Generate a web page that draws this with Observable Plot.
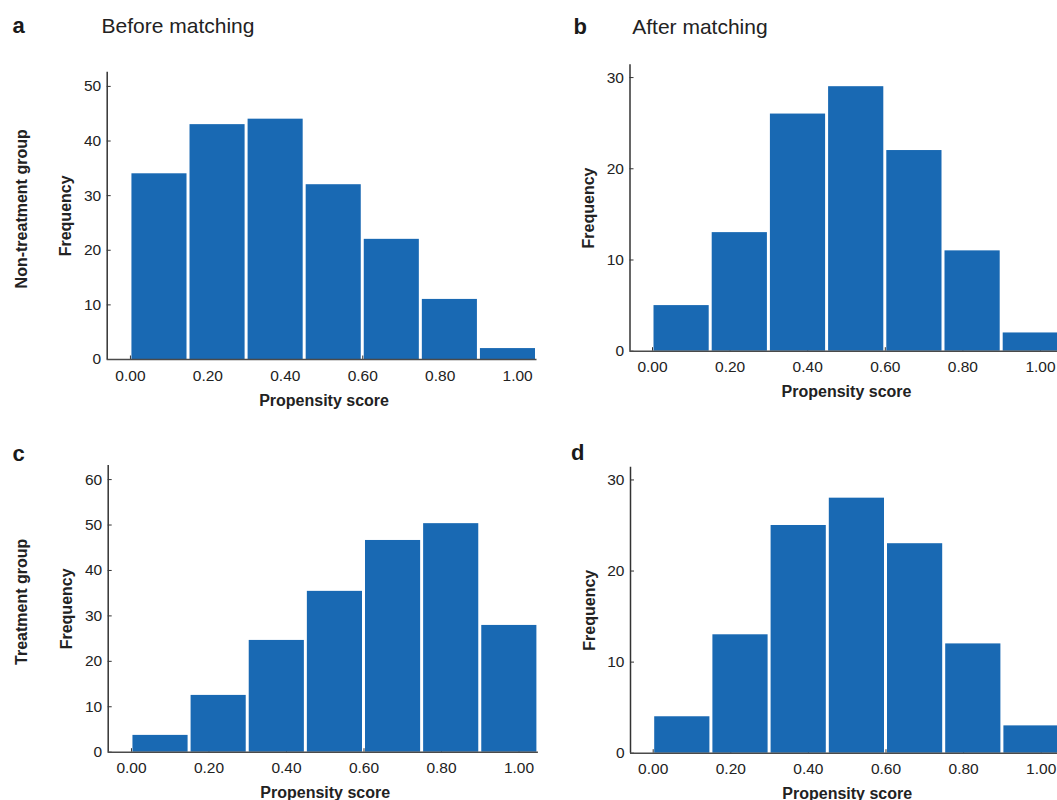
<!DOCTYPE html>
<html><head><meta charset="utf-8">
<script src="https://cdn.jsdelivr.net/npm/d3@7"></script>
<script src="https://cdn.jsdelivr.net/npm/@observablehq/plot@0.6"></script>
<style>
html,body{margin:0;padding:0;background:#fff;overflow:hidden;width:1057px;height:800px;}
#fig{position:relative;width:1057px;height:800px;overflow:hidden;background:#fff;}
#fig svg{position:absolute;max-width:none;}
</style></head><body><div id="fig"></div>
<script>
// ---- data ----
const binEdges = [0, 0.15, 0.30, 0.45, 0.60, 0.75, 0.90, 1.05];
const xTicks = [0, 0.2, 0.4, 0.6, 0.8, 1.0];
const nonTreatBefore = [34, 43, 44, 32, 22, 11, 2];
const nonTreatAfter = [5, 13, 26, 29, 22, 11, 2];
const treatBefore = [3.7, 12.5, 24.6, 35.4, 46.6, 50.3, 27.9];
const treatAfter = [4, 13, 25, 28, 23, 12, 3];
const yTicksA = [0, 10, 20, 30, 40, 50];
const yTicksB = [0, 10, 20, 30];
const yTicksC = [0, 10, 20, 30, 40, 50, 60];
const yTicksD = [0, 10, 20, 30];
const panelLetters = ["a", "b", "c", "d"];
const columnTitles = ["Before matching", "After matching"];
const rowLabels = ["Non-treatment group", "Treatment group"];
const yLabel = "Frequency";
const xLabel = "Propensity score";

const BAR = "#1969b3";
const FONT = "'Liberation Sans', Arial, Helvetica, sans-serif";

function panel(cfg) {
  const {values, yTicks, yMax, xMin, left, top, width, height, mL, mR, mT, mB,
         letter, letterX, titleY, title, titleX, rowLabel, rowLabelX} = cfg;
  const xMax = 1.05;
  const data = values.map((v, i) => ({x1: binEdges[i], x2: binEdges[i + 1], y: v}));
  const plotH = height - mT - mB;
  const plotW = width - mL - mR;
  const tickLenY = 3.5 * yMax / plotH;
  const tickLenX = 4 * (xMax - xMin) / plotW;
  const marks = [
    Plot.ruleX(xTicks, {x: d => d, y1: 0, y2: tickLenY, stroke: "#333", strokeWidth: 1}),
    Plot.rectY(data, {x1: "x1", x2: "x2", y: "y", fill: BAR, insetLeft: 1.5, insetRight: 1.5}),
    Plot.ruleY(yTicks, {y: d => d, x1: xMin, x2: xMin + tickLenX, stroke: "#333", strokeWidth: 1}),
    Plot.ruleY([0], {stroke: "#4a4a4a", strokeWidth: 1.5}),
    Plot.ruleX([xMin], {stroke: "#333", strokeWidth: 1.5}),
    Plot.axisX({ticks: xTicks, tickSize: 0, tickPadding: 10, tickFormat: d3.format(".2f"), label: null, fontSize: 15.5, fill: "#222"}),
    Plot.axisY({ticks: yTicks, tickSize: 0, tickPadding: 6, tickFormat: d3.format("d"), label: null, fontSize: 15.5, fill: "#222"}),
    Plot.text([yLabel], {frameAnchor: "left", rotate: -90, dx: -36, lineAnchor: "bottom", textAnchor: "middle", fontWeight: "bold", fontSize: 16, fill: "#222"}),
    Plot.text([xLabel], {x: 0.5, frameAnchor: "bottom", dy: 46, lineAnchor: "bottom", textAnchor: "middle", fontWeight: "bold", fontSize: 16, fill: "#222"}),
    Plot.text([letter], {frameAnchor: "top-left", dx: letterX - mL, dy: titleY - mT, textAnchor: "start", lineAnchor: "bottom", fontWeight: "bold", fontSize: 22, fill: "#1a1a1a"})
  ];
  if (title) marks.push(Plot.text([title], {frameAnchor: "top-left", dx: titleX - mL, dy: titleY - mT, textAnchor: "start", lineAnchor: "bottom", fontSize: 21, fill: "#222"}));
  if (rowLabel) marks.push(Plot.text([rowLabel], {frameAnchor: "left", rotate: -90, dx: rowLabelX - mL, dy: -7, lineAnchor: "bottom", textAnchor: "middle", fontWeight: "bold", fontSize: 16, fill: "#222"}));
  const svg = Plot.plot({
    width, height,
    marginLeft: mL, marginRight: mR, marginTop: mT, marginBottom: mB,
    x: {domain: [xMin, xMax]},
    y: {domain: [0, yMax]},
    style: {fontFamily: FONT, fontSize: "15.5px", color: "#222", background: "transparent", overflow: "visible"},
    marks
  });
  svg.style.left = left + "px";
  svg.style.top = top + "px";
  document.getElementById("fig").appendChild(svg);
}

panel({values: nonTreatBefore, yTicks: yTicksA, yMax: 52.6, xMin: -0.06,
  left: 0, top: 0, width: 560, height: 420, mL: 106.7, mR: 23.5, mT: 71.7, mB: 61,
  letter: panelLetters[0], letterX: 12, titleY: 33, title: columnTitles[0], titleX: 101,
  rowLabel: rowLabels[0], rowLabelX: 26});

panel({values: nonTreatAfter, yTicks: yTicksB, yMax: 31.4, xMin: -0.058,
  left: 540, top: 0, width: 540, height: 420, mL: 89.5, mR: 20.6, mT: 64.3, mB: 69.3,
  letter: panelLetters[1], letterX: 33, titleY: 33, title: columnTitles[1], titleX: 91.7});

panel({values: treatBefore, yTicks: yTicksC, yMax: 63.1, xMin: -0.06,
  left: 0, top: 430, width: 560, height: 380, mL: 107.7, mR: 22.1, mT: 35, mB: 58.3,
  letter: panelLetters[2], letterX: 12, titleY: 30,
  rowLabel: rowLabels[1], rowLabelX: 26});

panel({values: treatAfter, yTicks: yTicksD, yMax: 31.4, xMin: -0.0585,
  left: 540, top: 430, width: 540, height: 380, mL: 90, mR: 19.9, mT: 36.7, mB: 57.3,
  letter: panelLetters[3], letterX: 30.5, titleY: 29.5});
</script>
</body></html>
